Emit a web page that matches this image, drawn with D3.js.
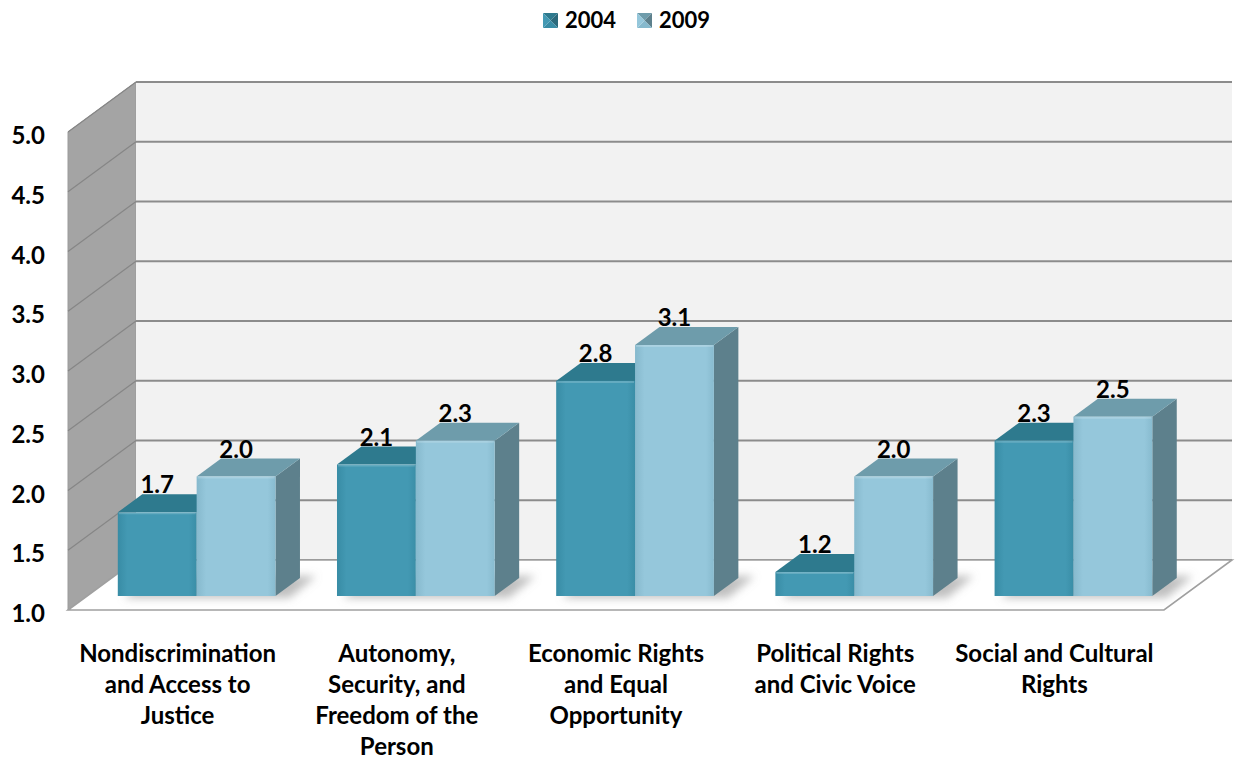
<!DOCTYPE html>
<html>
<head>
<meta charset="utf-8">
<script src="https://cdn.jsdelivr.net/npm/d3@7/dist/d3.min.js"></script>
<style>
  html, body { margin: 0; padding: 0; background: #ffffff; }
  svg { display: block; font-family: Lato, "Open Sans", sans-serif; font-weight: 700; }
</style>
</head>
<body>
<svg id="chart" width="1236" height="761"></svg>
<script>
// ---- data ----
const categories = [
  "Nondiscrimination\nand Access to\nJustice",
  "Autonomy,\nSecurity, and\nFreedom of the\nPerson",
  "Economic Rights\nand Equal\nOpportunity",
  "Political Rights\nand Civic Voice",
  "Social and Cultural\nRights"
];
const seriesNames = ["2004", "2009"];
const values2004 = [1.7, 2.1, 2.8, 1.2, 2.3];
const values2009 = [2.0, 2.3, 3.1, 2.0, 2.5];
const yTicks = [1.0, 1.5, 2.0, 2.5, 3.0, 3.5, 4.0, 4.5, 5.0];

const seriesValues = { "2004": values2004, "2009": values2009 };

// ---- styling ----
const palette = {
  "2004": { front: ["#388ca5", "#4399b3", "#3a8ea7"], top: "#2e7a8e", side: "#2b697b" },
  "2009": { front: ["#86b9cd", "#95c7db", "#88bbcf"], top: "#6e9cab", side: "#5d808c" }
};
const FONT = 24;

const svg = d3.select("#chart");
const defs = svg.append("defs");

// 3D box layout: front plane, back plane offset and the plane the bars stand on
const FX0 = 68, FX1 = 1164;
const DX = 68, DY = -50;            // back wall offset from front plane
const BAR_F = 0.28, BAR_D = 0.36;   // bar front position and depth as fraction of floor depth
const bOff = [BAR_F * DX, BAR_F * DY];
const bDep = [BAR_D * DX, BAR_D * DY];

const y = d3.scaleLinear().domain([1, 5]).range([610, 132]);
const x = d3.scaleBand().domain(categories).range([FX0, FX1]);
const xs = d3.scaleBand().domain(seriesNames).range([0, x.bandwidth()]).paddingInner(0).paddingOuter(0.39);

// gradients for bar fronts
seriesNames.forEach(s => {
  const g = defs.append("linearGradient").attr("id", "front-" + s)
    .attr("x1", 0).attr("x2", 1).attr("y1", 0).attr("y2", 0);
  g.append("stop").attr("offset", "0%").attr("stop-color", palette[s].front[0]);
  g.append("stop").attr("offset", "12%").attr("stop-color", palette[s].front[1]);
  g.append("stop").attr("offset", "90%").attr("stop-color", palette[s].front[1]);
  g.append("stop").attr("offset", "100%").attr("stop-color", palette[s].front[2]);
});
defs.append("filter").attr("id", "shadowBlur").attr("x", "-20%").attr("y", "-50%").attr("width", "140%").attr("height", "200%")
  .append("feGaussianBlur").attr("stdDeviation", 4);

const pts = arr => arr.map(p => p.join(",")).join(" ");

// ---- side wall ----
const yMin = 1, yMax = 5;
svg.append("polygon")
  .attr("points", pts([[FX0, y(yMax)], [FX0 + DX, y(yMax) + DY], [FX0 + DX, y(yMin) + DY], [FX0, y(yMin)]]))
  .attr("fill", "#a4a4a4").attr("stroke", "#9a9a9a").attr("stroke-width", 1);

// ---- back wall ----
svg.append("rect")
  .attr("x", FX0 + DX).attr("y", y(yMax) + DY)
  .attr("width", FX1 - FX0).attr("height", y(yMin) - y(yMax))
  .attr("fill", "#f2f2f2");

// gridlines on side wall and back wall
const grid = svg.append("g");
grid.selectAll("line.side").data(yTicks.filter(t => t > yMin)).join("line")
  .attr("class", "side")
  .attr("x1", FX0).attr("y1", d => y(d))
  .attr("x2", FX0 + DX).attr("y2", d => y(d) + DY)
  .attr("stroke", "#868686").attr("stroke-width", 1.2);
grid.selectAll("line.back").data(yTicks).join("line")
  .attr("class", "back")
  .attr("x1", FX0 + DX).attr("y1", d => y(d) + DY)
  .attr("x2", FX1 + DX).attr("y2", d => y(d) + DY)
  .attr("stroke", "#8c8c8c").attr("stroke-width", 2);

// ---- floor ----
svg.append("polygon")
  .attr("points", pts([[FX0, y(yMin)], [FX1, y(yMin)], [FX1 + DX, y(yMin) + DY], [FX0 + DX, y(yMin) + DY]]))
  .attr("fill", "#ffffff").attr("stroke", "#a0a0a0").attr("stroke-width", 1.6);

// ---- bars ----
const bars = [];
categories.forEach((c, i) => {
  seriesNames.forEach(s => {
    bars.push({ cat: c, series: s, value: seriesValues[s][i] });
  });
});

function barGeom(d) {
  const x0 = x(d.cat) + xs(d.series) + bOff[0];
  const x1 = x0 + xs.bandwidth();
  const yT = y(d.value) + bOff[1];
  const yB = y(yMin) + bOff[1];
  return { x0, x1, yT, yB };
}

// soft floor shadows
const shadowG = svg.append("g").attr("filter", "url(#shadowBlur)");
categories.forEach(c => {
  const g0 = barGeom({ cat: c, series: seriesNames[0], value: 1 });
  const g1 = barGeom({ cat: c, series: seriesNames[1], value: 1 });
  shadowG.append("polygon")
    .attr("points", pts([
      [g0.x0 + 6, g0.yB + 2], [g1.x1 + 14, g0.yB + 2],
      [g1.x1 + bDep[0] + 16, g0.yB + bDep[1] - 2], [g0.x0 + bDep[0] + 6, g0.yB + bDep[1] - 2]
    ]))
    .attr("fill", "#8a8a8a").attr("opacity", 0.55);
});

const barG = svg.append("g").selectAll("g.bar").data(bars).join("g").attr("class", "bar");
barG.each(function (d) {
  const g = d3.select(this);
  const { x0, x1, yT, yB } = barGeom(d);
  const [dx, dy] = bDep;
  const col = palette[d.series];
  g.append("polygon")
    .attr("points", pts([[x1, yT], [x1 + dx, yT + dy], [x1 + dx, yB + dy], [x1, yB]]))
    .attr("fill", col.side);
  g.append("polygon")
    .attr("points", pts([[x0, yT], [x1, yT], [x1 + dx, yT + dy], [x0 + dx, yT + dy]]))
    .attr("fill", col.top);
  g.append("rect")
    .attr("x", x0).attr("y", yT).attr("width", x1 - x0).attr("height", yB - yT)
    .attr("fill", `url(#front-${d.series})`);
  // subtle highlight along the front top edge
  g.append("line")
    .attr("x1", x0 + 1).attr("x2", x1 - 1).attr("y1", yT + 1).attr("y2", yT + 1)
    .attr("stroke", "#ffffff").attr("stroke-opacity", 0.18).attr("stroke-width", 2);
});

// value labels
svg.append("g").selectAll("text").data(bars).join("text")
  .attr("x", d => { const g = barGeom(d); return (g.x0 + g.x1) / 2; })
  .attr("y", d => barGeom(d).yT - 19)
  .attr("text-anchor", "middle")
  .attr("font-size", FONT)
  .attr("fill", "#000")
  .text(d => d.value.toFixed(1));

// ---- y axis ----
const yAxis = d3.axisLeft(y).tickValues(yTicks).tickSize(0).tickPadding(23).tickFormat(d3.format(".1f"));
const ya = svg.append("g").attr("transform", `translate(${FX0},0)`).call(yAxis);
ya.select(".domain").remove();
ya.selectAll("text")
  .attr("font-family", "Lato, 'Open Sans', sans-serif")
  .attr("font-weight", 700)
  .attr("font-size", FONT)
  .attr("fill", "#000")
  .attr("dy", "0.48em");

// ---- category labels ----
const catG = svg.append("g").selectAll("text").data(categories).join("text")
  .attr("x", d => x(d) + x.bandwidth() / 2)
  .attr("y", 662)
  .attr("text-anchor", "middle")
  .attr("font-size", FONT)
  .attr("fill", "#000");
catG.each(function (d) {
  const t = d3.select(this);
  d.split("\n").forEach((line, i) => {
    t.append("tspan").attr("x", x(d) + x.bandwidth() / 2).attr("dy", i === 0 ? 0 : 31).text(line);
  });
});

// ---- legend ----
const legendItems = [
  { name: seriesNames[0], mx: 543, tx: 565 },
  { name: seriesNames[1], mx: 637, tx: 659 }
];
const lg = svg.append("g");
legendItems.forEach(it => {
  const s = 15, x0 = it.mx, y0 = 13, c = palette[it.name];
  const cx = x0 + s / 2, cy = y0 + s / 2;
  const tri = [
    { p: [[x0, y0], [x0 + s, y0], [cx, cy]], f: c.top },
    { p: [[x0 + s, y0], [x0 + s, y0 + s], [cx, cy]], f: c.side },
    { p: [[x0, y0 + s], [x0 + s, y0 + s], [cx, cy]], f: c.front[0] },
    { p: [[x0, y0], [x0, y0 + s], [cx, cy]], f: c.front[1] }
  ];
  tri.forEach(t => lg.append("polygon").attr("points", pts(t.p)).attr("fill", t.f));
  lg.append("text").attr("x", it.tx).attr("y", 28).attr("font-size", 22).attr("fill", "#000").text(it.name);
});
</script>
</body>
</html>
